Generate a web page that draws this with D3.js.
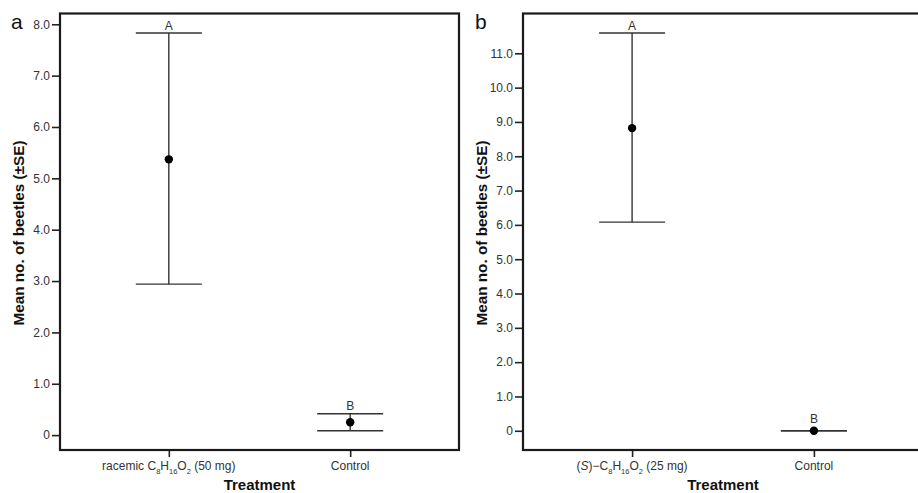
<!DOCTYPE html>
<html>
<head>
<meta charset="utf-8">
<script src="https://cdn.jsdelivr.net/npm/d3@7"></script>
<style>
  body { margin: 0; background: #fff; }
  text { font-family: "Liberation Sans", Arial, sans-serif; }
</style>
</head>
<body>
<div id="content"></div>
<script>
// Set up canvas
var width = 918, height = 493;

// panel a
var catsA = ["racemic", "control"];
var meanA = [5.37, 0.25];
var upperA = [7.83, 0.415];
var lowerA = [2.94, 0.085];
var ticksA = [0, 1, 2, 3, 4, 5, 6, 7, 8];

// panel b
var catsB = ["s", "control"];
var meanB = [8.82, 0];
var upperB = [11.59, 0];
var lowerB = [6.08, 0];
var ticksB = [0, 1, 2, 3, 4, 5, 6, 7, 8, 9, 10, 11];

var letters = ["A", "B"];

// label pieces: [text, style] with style "" | "sub" | "it"
var catLabels = {
    racemic: [["racemic C", ""], ["8", "sub"], ["H", ""], ["16", "sub"], ["O", ""], ["2", "sub"], [" (50 mg)", ""]],
    s: [["(", ""], ["S", "it"], [")\u2212C", ""], ["8", "sub"], ["H", ""], ["16", "sub"], ["O", ""], ["2", "sub"], [" (25 mg)", ""]],
    control: [["Control", ""]]
};

var svg = d3.select("#content")
    .append("svg")
    .attr("width", width)
    .attr("height", height);

function panel(opt) {
    var left = opt.left, right = opt.right, top = 13.5, bottom = 450;

    var x = d3.scalePoint()
        .domain(opt.cats)
        .range([left, right])
        .padding(0.6);

    var y = d3.scaleLinear()
        .domain(opt.ydom)
        .range([bottom, top]);

    var g = svg.append("g");

    // y axis
    var yAxis = d3.axisLeft(y)
        .tickValues(opt.ticks)
        .tickSize(8)
        .tickPadding(2)
        .tickFormat(function(d) { return d === 0 ? "0" : d.toFixed(1); });

    var ya = g.append("g")
        .attr("transform", "translate(" + left + ",0)")
        .call(yAxis);
    ya.select(".domain").remove();
    ya.selectAll(".tick line").attr("stroke", "#222").attr("stroke-width", 1.6);
    ya.selectAll(".tick text").attr("fill", "#333").style("font-size", "12px");

    // x axis
    var xAxis = d3.axisBottom(x).tickSize(7).tickFormat("");
    var xa = g.append("g")
        .attr("transform", "translate(0," + bottom + ")")
        .call(xAxis);
    xa.select(".domain").remove();
    xa.selectAll(".tick line").attr("stroke", "#222").attr("stroke-width", 1.6);

    // category labels
    opt.cats.forEach(function(c) {
        var t = g.append("text")
            .attr("x", x(c))
            .attr("y", 470)
            .attr("text-anchor", "middle")
            .attr("fill", "#333")
            .style("font-size", "12px");
        var subbed = false;
        catLabels[c].forEach(function(p) {
            var ts = t.append("tspan").text(p[0]);
            if (p[1] === "sub") {
                ts.style("font-size", "7.5px").attr("dy", subbed ? 0 : 3.5);
                subbed = true;
            } else {
                if (subbed) ts.attr("dy", -3.5);
                subbed = false;
                if (p[1] === "it") ts.style("font-style", "italic");
            }
        });
    });

    // frame
    g.append("rect")
        .attr("x", left)
        .attr("y", top)
        .attr("width", right - left)
        .attr("height", bottom - top)
        .attr("fill", "none")
        .attr("stroke", "#1a1a1a")
        .attr("stroke-width", 2.2);

    // error bars
    var cap = 33, r = 4.2;
    opt.cats.forEach(function(c, i) {
        var cx = x(c);
        g.append("line")
            .attr("x1", cx).attr("x2", cx)
            .attr("y1", y(opt.upper[i])).attr("y2", y(opt.lower[i]))
            .attr("stroke", "#333").attr("stroke-width", 1.4);
        [opt.upper[i], opt.lower[i]].forEach(function(v) {
            g.append("line")
                .attr("x1", cx - cap).attr("x2", cx + cap)
                .attr("y1", y(v)).attr("y2", y(v))
                .attr("stroke", "#333").attr("stroke-width", 1.4);
        });
        g.append("circle")
            .attr("cx", cx)
            .attr("cy", y(opt.mean[i]))
            .attr("r", r)
            .attr("fill", "#000");
        g.append("text")
            .attr("x", cx)
            .attr("y", Math.min(y(opt.upper[i]), y(opt.mean[i]) - r) - 3.5)
            .attr("text-anchor", "middle")
            .attr("fill", "#333")
            .style("font-size", "12px")
            .text(letters[i]);
    });

    // axis titles
    g.append("text")
        .attr("transform", "translate(" + opt.ytitleX + "," + 233 + ") rotate(-90)")
        .attr("text-anchor", "middle")
        .style("font-size", "15.3px")
        .style("font-weight", "bold")
        .attr("fill", "#111")
        .text("Mean no. of beetles (\u00b1SE)");

    g.append("text")
        .attr("x", (left + right) / 2)
        .attr("y", 490)
        .attr("text-anchor", "middle")
        .style("font-size", "15px")
        .style("font-weight", "bold")
        .attr("fill", "#111")
        .text("Treatment");

    // panel letter
    g.append("text")
        .attr("x", opt.letterX)
        .attr("y", 29)
        .style("font-size", "21px")
        .attr("fill", "#111")
        .text(opt.name);
}

panel({ name: "a", left: 60, right: 459, cats: catsA, mean: meanA, upper: upperA, lower: lowerA,
        ticks: ticksA, ydom: [-0.29, 8.21], ytitleX: 24, letterX: 11 });
panel({ name: "b", left: 523, right: 923, cats: catsB, mean: meanB, upper: upperB, lower: lowerB,
        ticks: ticksB, ydom: [-0.56, 12.16], ytitleX: 487, letterX: 475 });
</script>
</body>
</html>
